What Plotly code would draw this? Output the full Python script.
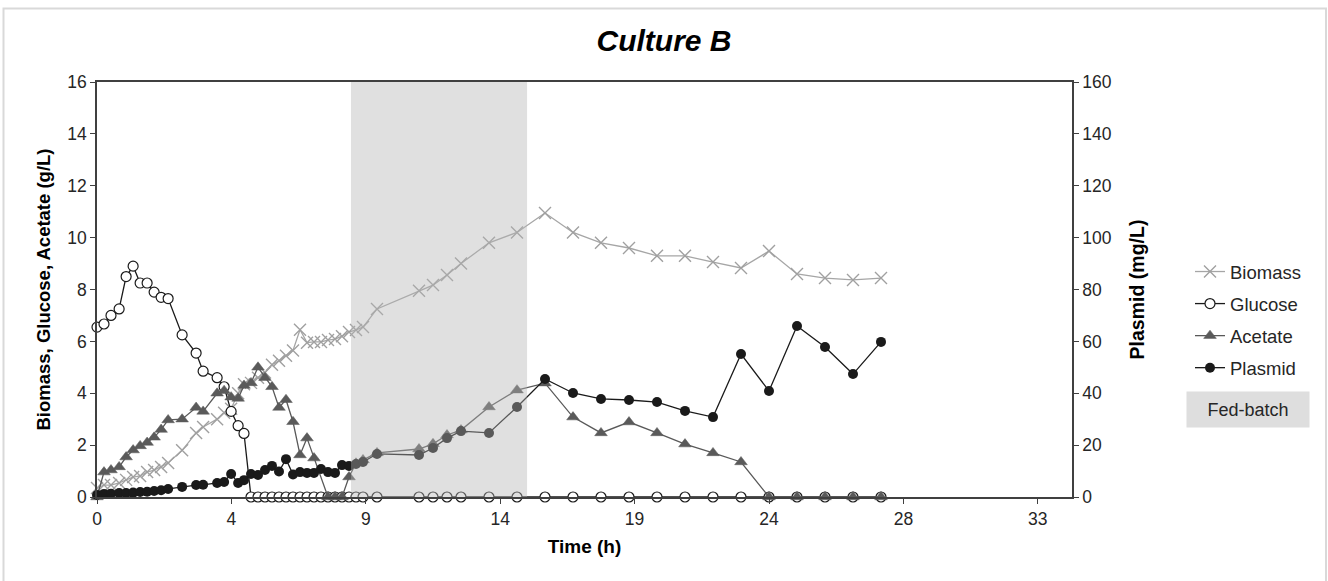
import plotly.graph_objects as go

# Sampling times (h, axis units) shared by all series
time_h = [0, 0.25, 0.5, 0.79, 1.04, 1.29, 1.54, 1.79, 2.04, 2.29,
          2.54, 3.04, 3.54, 3.79, 4.29, 4.54, 4.79, 5.04, 5.25, 5.5,
          5.75, 6.0, 6.25, 6.5, 6.75, 7.0, 7.25, 7.5, 7.75, 8.0,
          8.25, 8.5, 8.75, 9.0, 9.25, 9.5, 10.0, 11.5, 12.0, 12.5,
          13.0, 14.0, 15.0, 16.0, 17.0, 18.0, 19.0, 20.0, 21.0, 22.0,
          23.0, 24.0, 25.0, 26.0, 27.0, 28.0]

biomass = [0.35, 0.46, 0.46, 0.54, 0.66, 0.77, 0.81, 0.96, 1.04, 1.16,
           1.31, 1.8, 2.47, 2.7, 3.0, 3.25, 3.4, 4.0, 4.35, 4.4,
           4.6, 4.8, 5.1, 5.25, 5.45, 5.65, 6.45, 5.95, 5.98, 5.98,
           6.05, 6.09, 6.2, 6.36, 6.44, 6.55, 7.25, 7.95, 8.17, 8.56,
           9.0, 9.8, 10.2, 10.95, 10.2, 9.8, 9.6, 9.3, 9.3, 9.06,
           8.83, 9.48, 8.6, 8.44, 8.37, 8.44]

glucose = [6.55, 6.67, 7.0, 7.25, 8.5, 8.9, 8.25, 8.25, 7.9, 7.7,
           7.65, 6.25, 5.55, 4.85, 4.6, 4.25, 3.3, 2.75, 2.45, 0,
           0, 0, 0, 0, 0, 0, 0, 0, 0, 0,
           0, 0, 0, 0, 0, 0, 0, 0, 0, 0,
           0, 0, 0, 0, 0, 0, 0, 0, 0, 0,
           0, 0, 0, 0, 0, 0]

acetate = [0, 0.96, 1.04, 1.16, 1.54, 1.81, 1.97, 2.1, 2.3, 2.6,
           2.97, 3.0, 3.45, 3.3, 4.0, 4.1, 3.85, 3.8, 4.3, 4.4,
           5.0, 4.6, 4.25, 3.45, 3.75, 2.9, 1.62, 2.27, 1.5, None,
           0, 0, 0, 0.77, 1.3, 1.43, 1.7, 1.85, 2.05, 2.39,
           2.58, 3.47, 4.12, 4.39, 3.08, 2.47, 2.89, 2.47, 2.04, 1.7,
           1.35, 0, 0, 0, 0, 0]

plasmid = [0.8, 1.2, 1.3, 1.5, 1.5, 1.7, 1.9, 2.0, 2.3, 2.6,
           3.1, 3.9, 4.6, 4.7, 5.4, 5.8, 8.9, 5.4, 6.5, 8.9,
           8.5, 10.4, 12.0, 9.8, 14.6, 8.7, 9.6, 9.3, 9.3, 10.8,
           9.6, 9.3, 12.3, 12.0, 12.7, 13.5, 16.6, 16.2, 18.9, 22.7,
           25.4, 24.7, 34.7, 45.5, 40.1, 37.8, 37.4, 36.6, 33.2, 30.8,
           55.1, 40.9, 65.9, 57.8, 47.4, 59.8]

x_tick_vals = [0, 4.8, 9.6, 14.4, 19.2, 24.0, 28.8, 33.6]
x_tick_text = ["0", "4", "9", "14", "19", "24", "28", "33"]
fed_batch = [9.07, 15.36]

FONT = "Liberation Sans, Arial, sans-serif"

fig = go.Figure()

fig.add_trace(go.Scatter(
    x=time_h, y=biomass, name="Biomass", mode="lines+markers",
    line=dict(color="#a6a6a6", width=1.3),
    marker=dict(symbol="x-thin", size=12, color="#a0a0a0",
                line=dict(color="#a0a0a0", width=1.4)),
    legendgroup="b", cliponaxis=False))

fig.add_trace(go.Scatter(
    x=time_h, y=glucose, name="Glucose", mode="lines+markers",
    line=dict(color="#1a1a1a", width=1.3),
    marker=dict(symbol="circle", size=10, color="white",
                line=dict(color="#1a1a1a", width=1.2)),
    legendgroup="g", cliponaxis=False))

fig.add_trace(go.Scatter(
    x=time_h, y=acetate, name="Acetate", mode="lines+markers",
    connectgaps=True,
    line=dict(color="#595959", width=1.3),
    marker=dict(symbol="triangle-up", size=11, color="#5a5a5a",
                line=dict(color="#5a5a5a", width=0.5)),
    legendgroup="a", cliponaxis=False))

fig.add_trace(go.Scatter(
    x=time_h, y=plasmid, name="Plasmid", mode="lines+markers",
    yaxis="y2",
    line=dict(color="#1a1a1a", width=1.3),
    marker=dict(symbol="circle", size=10, color="#1a1a1a"),
    legendgroup="p", cliponaxis=False))

L, R, T, B = 97, 256, 82, 84
W, H = 1328, 581
pw, ph = W - L - R, H - T - B

def px_x(p):
    return (p - L) / pw

def px_y(p):
    return (H - B - p) / ph

shapes = [
    dict(type="rect", xref="x", yref="paper", x0=fed_batch[0], x1=fed_batch[1],
         y0=0, y1=1, fillcolor="rgb(180,180,180)", opacity=0.41,
         line=dict(width=0), layer="above"),
    dict(type="rect", xref="paper", yref="paper",
         x0=px_x(3.5), x1=px_x(1326), y0=px_y(8.5), y1=px_y(595),
         line=dict(color="#d9d9d9", width=2), fillcolor="rgba(0,0,0,0)",
         layer="below"),
]

fig.update_layout(
    width=W, height=H,
    margin=dict(l=L, r=R, t=T, b=B),
    paper_bgcolor="white", plot_bgcolor="white",
    font=dict(family=FONT, size=17, color="#262626"),
    title=dict(text="<b><i>Culture B</i></b>", x=0.5, xref="container",
               xanchor="center", y=1 - 40 / H, yanchor="middle",
               font=dict(family=FONT, size=30, color="black")),
    xaxis=dict(range=[0, (W - L - R) / 28.0], tickvals=x_tick_vals,
               ticktext=x_tick_text, ticks="outside", ticklen=5,
               tickcolor="#404040", showline=True, linecolor="#404040",
               linewidth=1.5, mirror=True, showgrid=False, zeroline=False,
               tickfont=dict(size=17.5),
               title=dict(text="<b>Time (h)</b>", standoff=12,
                          font=dict(size=19, color="black"))),
    yaxis=dict(range=[0, 16], dtick=2, ticks="outside", ticklen=5,
               tickcolor="#404040", showline=True, linecolor="#404040",
               linewidth=1.5, showgrid=False, zeroline=False,
               tickfont=dict(size=17.5),
               title=dict(text="<b>Biomass, Glucose, Acetate (g/L)</b>",
                          standoff=12, font=dict(size=18.5, color="black"))),
    yaxis2=dict(range=[0, 160], dtick=20, overlaying="y", side="right",
                ticks="outside", ticklen=5, tickcolor="#404040",
                showline=True, linecolor="#404040", linewidth=1.5,
                showgrid=False, zeroline=False, tickfont=dict(size=17.5),
                title=dict(text="<b>Plasmid (mg/L)</b>", standoff=20,
                           font=dict(size=19.5, color="black"))),
    legend=dict(x=px_x(1190), y=px_y(253), xanchor="left", yanchor="top",
                font=dict(size=18.5, color="#262626"), tracegroupgap=5,
                bgcolor="rgba(0,0,0,0)", itemwidth=30),
    shapes=shapes,
    annotations=[dict(text="Fed-batch", xref="paper", yref="paper",
                      x=px_x(1248), y=px_y(409.5), xanchor="center",
                      yanchor="middle", showarrow=False, bgcolor="#dedede",
                      width=114, height=27, borderpad=4,
                      font=dict(size=18, color="#262626"))],
)

fig.write_html("out.html", config={"displayModeBar": False},
               post_script="document.body.style.margin='0';")
